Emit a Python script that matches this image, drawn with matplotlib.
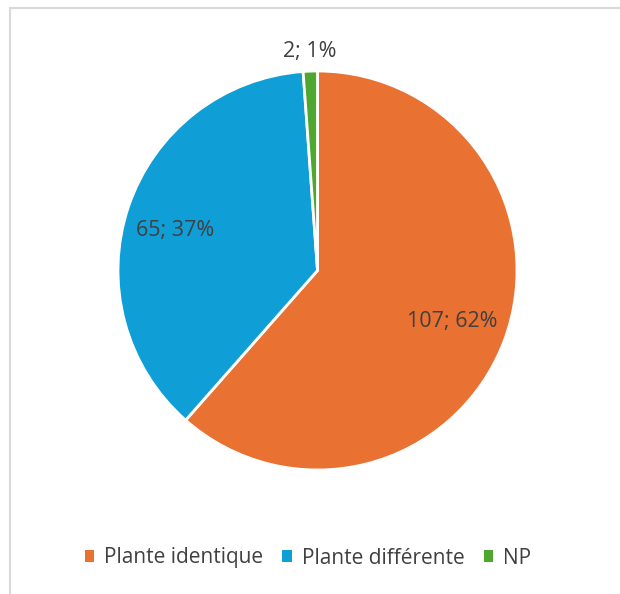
import matplotlib.pyplot as plt
from matplotlib.patches import Rectangle
import numpy as np

categories = ['Plante identique', 'Plante différente', 'NP']
counts = [107, 65, 2]
percents = ['62%', '37%', '1%']
colors = ['#E97132', '#0F9ED5', '#4EA72E']

plt.rcParams['font.family'] = ['Open Sans', 'DejaVu Sans']

fig = plt.figure(figsize=(6.2, 5.94), dpi=100)

# cadre gris du graphique (coupé à droite et en bas)
fig.patches.append(Rectangle((10 / 620, -0.05), 1.0, 1 - 8 / 594 + 0.05,
                             transform=fig.transFigure, fill=False,
                             edgecolor='#D9D9D9', linewidth=1.5))

ax = fig.add_axes([118 / 620, (594 - 470) / 594, 399 / 620, 399 / 594])
wedges, _ = ax.pie(counts, colors=colors, startangle=90, counterclock=False,
                   radius=1, wedgeprops=dict(edgecolor='white', linewidth=2))
ax.set_xlim(-1, 1)
ax.set_ylim(-1, 1)
ax.set_aspect('equal')
ax.axis('off')

# étiquettes de données
total = sum(counts)
start = 90
dists = [0.72, 0.74, 1.10]
shifts = [0, -3, 0]
for n, p, d, s in zip(counts, percents, dists, shifts):
    span = n / total * 360
    mid = np.deg2rad(start - span / 2 - s)
    start -= span
    ax.text(d * np.cos(mid), d * np.sin(mid), f'{n}; {p}', ha='center', va='center',
            fontsize=15.5, color='#404040', clip_on=False)

handles = [Rectangle((0, 0), 1, 1, facecolor=c) for c in colors]
fig.legend(handles, categories, loc='center', bbox_to_anchor=(308 / 620, 1 - 558 / 594),
           ncol=3, frameon=False, fontsize=15, labelcolor='#404040',
           handlelength=0.45, handleheight=0.45, handletextpad=0.5, columnspacing=0.9)

fig.savefig('out.png', dpi=100)
